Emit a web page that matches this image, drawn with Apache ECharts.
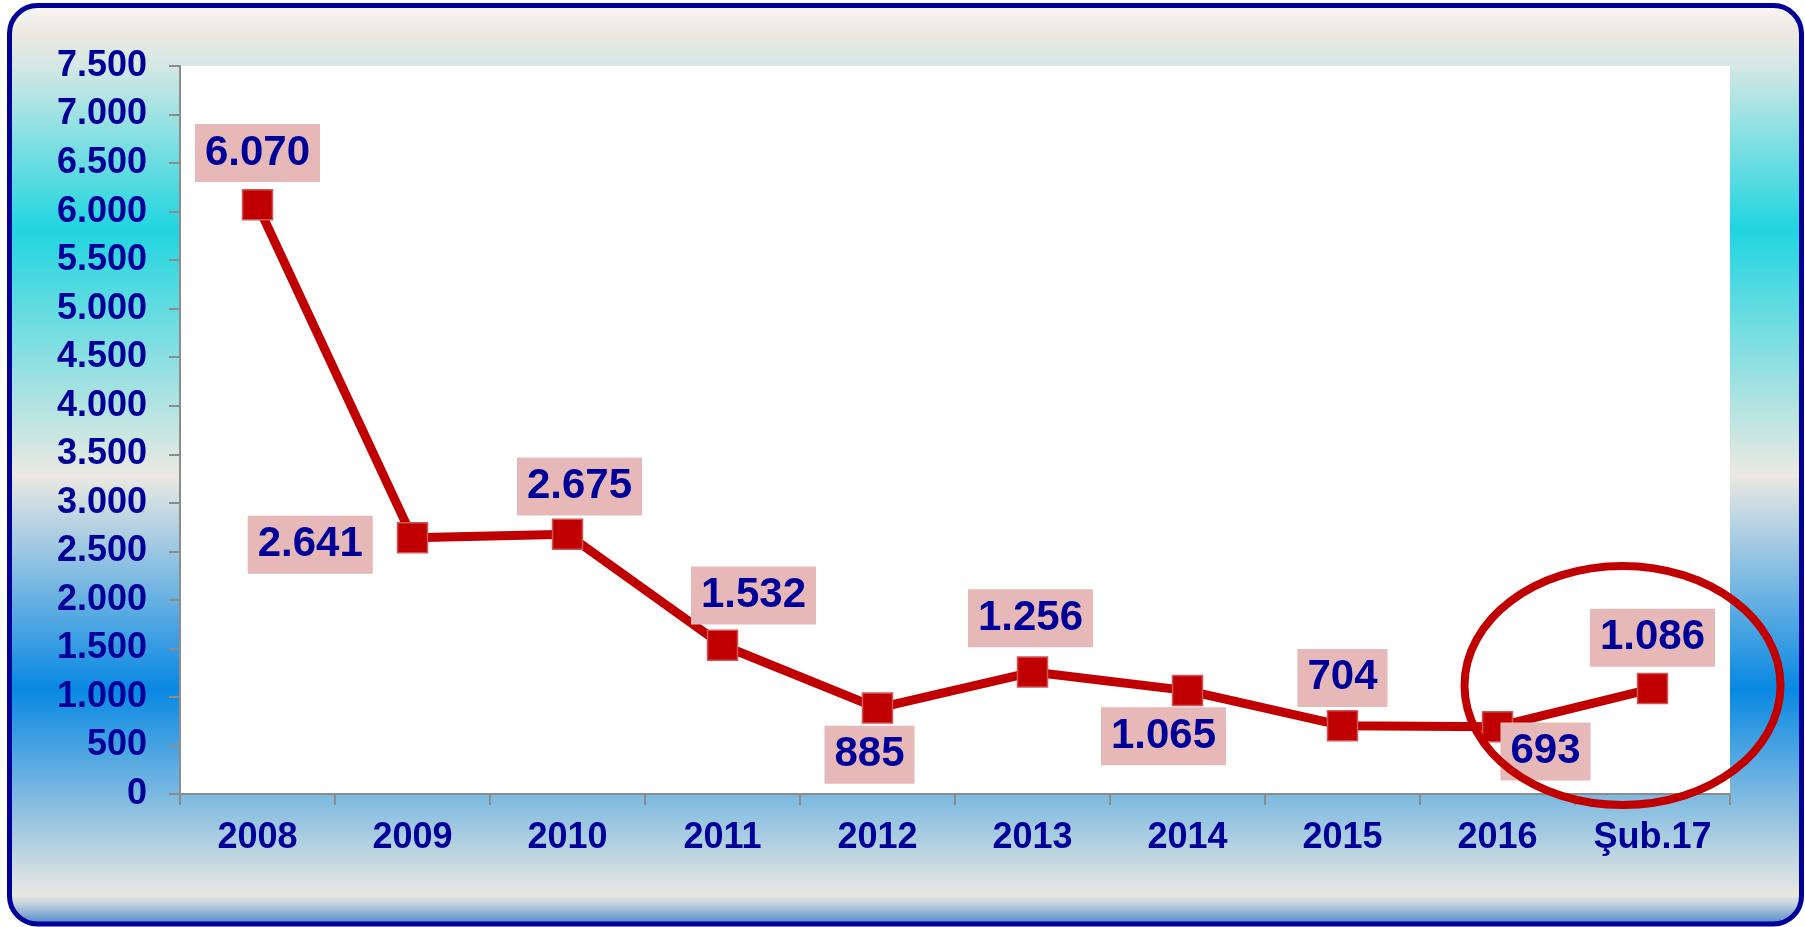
<!DOCTYPE html>
<html>
<head>
<meta charset="utf-8">
<title>Yıllara göre</title>
<script src="https://cdn.jsdelivr.net/npm/echarts@6/dist/echarts.min.js"></script>
<style>
  html, body { margin: 0; padding: 0; background: #fff; }
  #main { width: 1805px; height: 927px; }
</style>
</head>
<body>
<div id="main"></div>
<script>
// data
var years = ["2008", "2009", "2010", "2011", "2012", "2013", "2014", "2015", "2016", "Şub.17"];
var values = [6070, 2641, 2675, 1532, 885, 1256, 1065, 704, 693, 1086];
var yTicks = [0, 500, 1000, 1500, 2000, 2500, 3000, 3500, 4000, 4500, 5000, 5500, 6000, 6500, 7000, 7500];

// where each value box sits around its point
var labelPos = [
  { position: "top", distance: 7, offset: [0, 0] },
  { position: "left", distance: 24, offset: [0, 7] },
  { position: "top", distance: 3, offset: [12, 0] },
  { position: "top", distance: 5, offset: [31, 0] },
  { position: "bottom", distance: 2, offset: [-8, 0] },
  { position: "top", distance: 9, offset: [-2, 0] },
  { position: "bottom", distance: 1, offset: [-24, 0] },
  { position: "top", distance: 3, offset: [0, 0] },
  { position: "bottom", distance: 0, offset: [48, -20] },
  { position: "top", distance: 6, offset: [0, 0] }
];

var navy = "#000099";
var red = "#C00000";
var font = "'Liberation Sans', Arial, sans-serif";

function dotted(v) {
  return String(v).replace(/\B(?=(\d{3})+(?!\d))/g, ".");
}

var seriesData = values.map(function (v, i) {
  return {
    value: v,
    label: {
      position: labelPos[i].position,
      distance: labelPos[i].distance,
      offset: labelPos[i].offset
    }
  };
});

var myChart = echarts.init(document.getElementById("main"));

var option = {
  animation: false,
  backgroundColor: "#fff",
  graphic: [
    {
      type: "rect",
      z: -10,
      shape: { x: 9.5, y: 5.5, width: 1792, height: 918.5, r: 28 },
      style: {
        stroke: navy,
        lineWidth: 5,
        fill: {
          type: "linear", x: 0, y: 0, x2: 0, y2: 1,
          colorStops: [
            { offset: 0, color: "#f9f8f5" },
            { offset: 0.032, color: "#ece9e0" },
            { offset: 0.066, color: "#d6e8e4" },
            { offset: 0.245, color: "#20d5e0" },
            { offset: 0.511, color: "#ebe9e2" },
            { offset: 0.743, color: "#0888e2" },
            { offset: 0.966, color: "#e9e8e0" },
            { offset: 0.975, color: "#c6d3dc" },
            { offset: 1, color: "#3f7fc8" }
          ]
        }
      }
    }
  ],
  grid: {
    left: 180,
    right: 75,
    top: 66,
    bottom: 133,
    show: true,
    backgroundColor: "#fff",
    borderWidth: 0,
    outerBoundsMode: "none"
  },
  xAxis: {
    type: "category",
    data: years,
    boundaryGap: true,
    axisLine: { show: true, lineStyle: { color: "#8c8c8c", width: 2 } },
    axisTick: { show: true, length: 11, lineStyle: { color: "#8c8c8c", width: 2 } },
    axisLabel: {
      color: navy,
      fontFamily: font,
      fontWeight: "bold",
      fontSize: 36,
      margin: 26
    },
    splitLine: { show: false }
  },
  yAxis: {
    type: "value",
    min: yTicks[0],
    max: yTicks[yTicks.length - 1],
    interval: yTicks[1] - yTicks[0],
    axisLine: { show: true, lineStyle: { color: "#8c8c8c", width: 2 } },
    axisTick: { show: true, length: 11, lineStyle: { color: "#8c8c8c", width: 2 } },
    axisLabel: {
      color: navy,
      fontFamily: font,
      fontWeight: "bold",
      fontSize: 36,
      margin: 33,
      formatter: function (v) { return dotted(v); }
    },
    splitLine: { show: false }
  },
  series: [
    {
      type: "line",
      data: seriesData,
      symbol: "rect",
      symbolSize: 30,
      lineStyle: { color: red, width: 9 },
      itemStyle: { color: red, borderColor: "#d25555", borderWidth: 1.5 },
      label: {
        show: true,
        color: navy,
        fontFamily: font,
        fontWeight: "bold",
        fontSize: 42,
        lineHeight: 42,
        backgroundColor: "#E6B9B8",
        padding: [8, 10],
        formatter: function (p) { return dotted(p.value); }
      }
    }
  ]
};

option && myChart.setOption(option);

// red ring round the last two points, placed from the axes
var c = myChart.convertToPixel({ seriesIndex: 0 }, [years[years.length - 1], 1118]);
myChart.setOption({
  graphic: [
    {
      type: "rect",
      z: -10,
      shape: { x: 9.5, y: 5.5, width: 1792, height: 918.5, r: 28 }
    },
    {
      type: "ellipse",
      z: 100,
      shape: { cx: c[0] - 30, cy: c[1], rx: 158, ry: 119.5 },
      style: { fill: null, stroke: red, lineWidth: 8 }
    }
  ]
});
</script>
</body>
</html>
